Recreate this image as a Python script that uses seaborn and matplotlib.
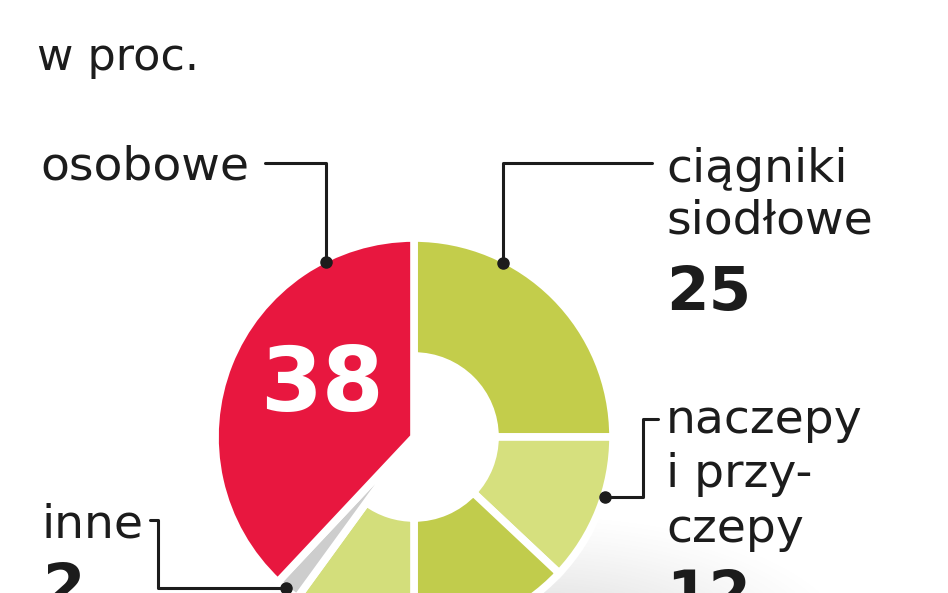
import numpy as np
import matplotlib
matplotlib.use("Agg")
import matplotlib.pyplot as plt
import seaborn as sns

# shares in percent, clockwise from 12 o'clock
categories = ["ciągniki siodłowe", "naczepy i przyczepy", "ciężarowe", "dostawcze", "inne", "osobowe"]
values = [25, 12, 13, 10, 2, 38]
colors = ["#c3cd4b", "#d6e07e", "#c1cc4c", "#d3de7b", "#cdcdcd", "#e8173f"]
full_wedge = ["inne", "osobowe"]

title = "w proc."

sns.set_theme(style="white")
plt.rcParams["font.family"] = ["DejaVu Sans"]

W, H = 948, 593
fig = plt.figure(figsize=(W / 100, H / 100), dpi=100)
ax = fig.add_axes([0, 0, 1, 1])


def py(y):
    # picture y (from top) -> axes y
    return H - y


cx, cy = 414, py(437)
R = 199

# soft shadow under the ring
gx, gy = np.meshgrid(np.linspace(0, W, 400), np.linspace(0, H, 250))
d = np.sqrt(((gx - 540) / 320) ** 2 + ((gy - py(655)) / 140) ** 2)
alpha = np.clip(1 - d, 0, 1) ** 1.2 * 0.45
shadow = np.zeros(gx.shape + (4,))
shadow[..., :3] = 0.62
shadow[..., 3] = alpha
ax.imshow(shadow, extent=(0, W, 0, H), origin="lower", zorder=0, interpolation="bilinear")

wedges, _ = ax.pie(values, colors=colors, startangle=90, counterclock=False,
                   radius=R, center=(cx, cy),
                   wedgeprops=dict(edgecolor="white", linewidth=5.5))
for w, cat in zip(wedges, categories):
    w.set_zorder(2)
    if cat not in full_wedge:
        w.set_width(R - 81)

ax.set_xlim(0, W)
ax.set_ylim(0, H)
ax.set_aspect("equal")
ax.axis("off")

fs = 34
ink = "#1c1c1c"
lw = 2.2
ms = 8
ax.text(37, py(70), title, fontsize=32, color=ink, va="baseline")

# osobowe
ax.text(40, py(180), categories[5].split()[0], fontsize=fs, color=ink, va="baseline")
ax.plot([265, 326, 326], [py(163), py(163), py(262)], color=ink, lw=lw, zorder=3)
ax.plot([326], [py(262)], "o", color=ink, ms=ms, zorder=4)
ax.text(322, py(386), str(values[5]), fontsize=64, fontweight="bold", color="white",
        ha="center", va="center", zorder=5)

# ciągniki siodłowe
ax.text(666, py(182), "ciągniki", fontsize=fs, color=ink, va="baseline")
ax.text(666, py(233), "siodłowe", fontsize=fs, color=ink, va="baseline")
ax.text(666, py(310), str(values[0]), fontsize=44, fontweight="bold", color=ink, va="baseline")
ax.plot([652, 503, 503], [py(163), py(163), py(263)], color=ink, lw=lw, zorder=3)
ax.plot([503], [py(263)], "o", color=ink, ms=ms, zorder=4)

# naczepy i przyczepy
ax.text(666, py(433), "naczepy", fontsize=fs, color=ink, va="baseline")
ax.text(666, py(487), "i przy-", fontsize=fs, color=ink, va="baseline")
ax.text(666, py(542), "czepy", fontsize=fs, color=ink, va="baseline")
ax.text(666, py(614), str(values[1]), fontsize=44, fontweight="bold", color=ink, va="baseline")
ax.plot([605, 643, 643, 658], [py(497), py(497), py(419), py(419)], color=ink, lw=lw, zorder=3)
ax.plot([605], [py(497)], "o", color=ink, ms=ms, zorder=4)

# inne
ax.text(42, py(537), categories[4], fontsize=fs, color=ink, va="baseline")
ax.text(42, py(607), str(values[4]), fontsize=44, fontweight="bold", color=ink, va="baseline")
ax.plot([150, 158, 158, 286], [py(520), py(520), py(588), py(588)], color=ink, lw=lw, zorder=3)
ax.plot([286], [py(588)], "o", color=ink, ms=ms, zorder=4)

fig.savefig("out.png", dpi=100)
